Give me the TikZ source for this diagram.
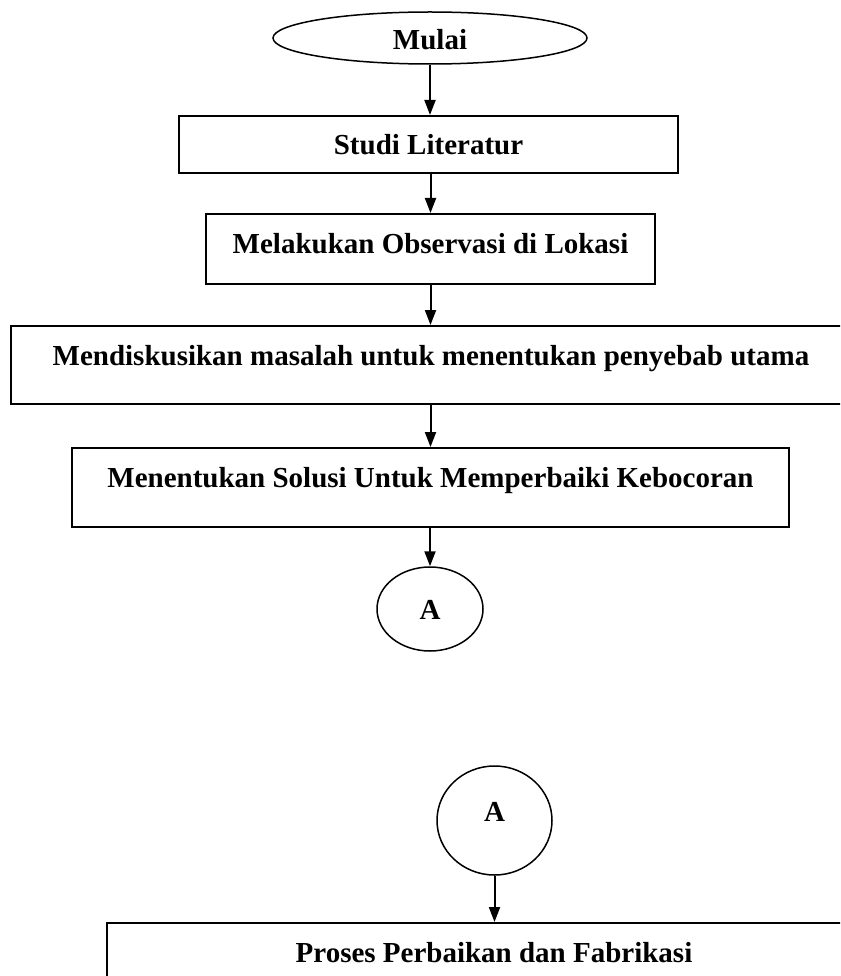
\documentclass[tikz,border=0pt]{standalone}
\usepackage{fontspec}
\setmainfont{Liberation Serif}
\usetikzlibrary{shapes.geometric,arrows.meta}
\begin{document}
\begin{tikzpicture}[x=1pt,y=-1pt,
  box/.style={draw=black,line width=2pt,rectangle,inner sep=0pt},
  oval/.style={draw=black,line width=1.5pt,ellipse,inner sep=0pt},
  lbl/.style={anchor=base,inner sep=0pt,font=\fontsize{29}{34}\selectfont\bfseries},
  flow/.style={line width=2pt,-{Triangle[length=15pt,width=11pt]}}]
\useasboundingbox (0,0) rectangle (840,976);
\clip (0,0) rectangle (840,976);
% nodes
\node[oval,minimum width=314pt,minimum height=52pt] (start) at (430,38) {};
\node[lbl] (tstart) at (430,50) {Mulai};
\node[box,minimum width=499pt,minimum height=57pt] (b1) at (428.5,144.5) {};
\node[lbl] (t1) at (428.5,155) {Studi Literatur};
\node[box,minimum width=449pt,minimum height=70pt] (b2) at (430.5,249) {};
\node[lbl] (t2) at (430.5,253) {Melakukan Observasi di Lokasi};
\node[box,minimum width=840pt,minimum height=78pt] (b3) at (431,365) {};
\node[lbl] (t3) at (431,365) {Mendiskusikan masalah untuk menentukan penyebab utama};
\node[box,minimum width=717pt,minimum height=79pt] (b4) at (430.5,487.5) {};
\node[lbl] (t4) at (430.5,487) {Menentukan Solusi Untuk Memperbaiki Kebocoran};
\node[oval,minimum width=106pt,minimum height=84pt] (a1) at (430,609) {};
\node[lbl] (ta1) at (430,619) {A};
\node[oval,minimum width=115pt,minimum height=109pt] (a2) at (494.5,820.5) {};
\node[lbl] (ta2) at (494.5,821) {A};
\node[box,minimum width=774pt,minimum height=97pt] (b5) at (494,971.5) {};
\node[lbl] (t5) at (494,962) {Proses Perbaikan dan Fabrikasi};
% connectors
\draw[flow] (start.south) -- (start.south |- b1.north);
\draw[flow] (b1.south -| b2.north) -- (b2.north);
\draw[flow] (b2.south) -- (b2.south |- b3.north);
\draw[flow] (b3.south -| b2.south) -- (b2.south |- b4.north);
\draw[flow] (b4.south -| a1.north) -- (a1.north);
\draw[flow] (a2.south) -- (a2.south |- b5.north);
\end{tikzpicture}
\end{document}
